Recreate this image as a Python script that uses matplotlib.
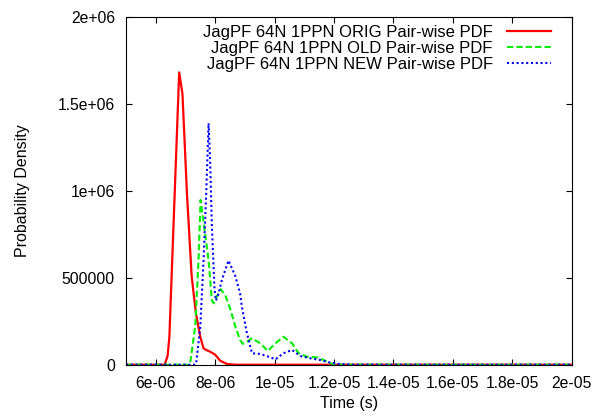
import matplotlib
matplotlib.use("Agg")
import matplotlib.pyplot as plt

plt.rcParams['font.family'] = ['Liberation Sans', 'DejaVu Sans']

# pair-wise PDF curves (time in s, density)
orig_t = [5.0e-6, 6.3e-6, 6.4e-6, 6.46e-6, 6.62e-6, 6.79e-6, 6.9e-6, 7.05e-6, 7.21e-6,
          7.35e-6, 7.5e-6, 7.61e-6, 7.7e-6, 7.83e-6, 8.0e-6, 8.17e-6, 8.4e-6, 8.7e-6, 2.0e-5]
orig_v = [0, 0, 50000, 160000, 900000, 1683000, 1560000, 990000, 510000,
          300000, 160000, 94000, 85000, 75000, 58000, 23000, 4000, 0, 0]

old_t = [5.0e-6, 7.1e-6, 7.16e-6, 7.33e-6, 7.44e-6, 7.51e-6, 7.58e-6, 7.66e-6, 7.78e-6,
         7.89e-6, 7.95e-6, 8.05e-6, 8.19e-6, 8.34e-6, 8.51e-6, 8.68e-6, 8.84e-6, 8.93e-6,
         9.07e-6, 9.24e-6, 9.52e-6, 9.77e-6, 1.003e-5, 1.03e-5, 1.059e-5, 1.081e-5,
         1.109e-5, 1.143e-5, 1.165e-5, 1.188e-5, 1.21e-5, 2.0e-5]
old_v = [0, 0, 10000, 220000, 600000, 948000, 860000, 756000, 600000,
         370000, 353000, 390000, 434000, 400000, 320000, 220000, 142000, 120000,
         132000, 152000, 123000, 79000, 123000, 161000, 123000, 66000,
         46000, 42000, 27000, 8000, 0, 0]

new_t = [5.0e-6, 7.3e-6, 7.36e-6, 7.5e-6, 7.61e-6, 7.7e-6, 7.78e-6, 7.83e-6, 7.89e-6,
         7.98e-6, 8.03e-6, 8.1e-6, 8.23e-6, 8.45e-6, 8.68e-6, 8.84e-6, 8.9e-6, 9.07e-6,
         9.24e-6, 9.52e-6, 9.8e-6, 1.003e-5, 1.03e-5, 1.059e-5, 1.087e-5, 1.12e-5,
         1.154e-5, 1.188e-5, 1.22e-5, 1.26e-5, 2.0e-5]
new_v = [0, 0, 5000, 220000, 600000, 990000, 1390000, 1180000, 800000,
         430000, 370000, 400000, 490000, 600000, 510000, 410000, 334000, 181000,
         66000, 62000, 46000, 31000, 66000, 85000, 50000, 37000,
         27000, 12000, 4000, 0, 0]

labels = ["JagPF 64N 1PPN ORIG Pair-wise PDF",
          "JagPF 64N 1PPN OLD Pair-wise PDF",
          "JagPF 64N 1PPN NEW Pair-wise PDF"]

x_ticks = [6e-6, 8e-6, 1e-5, 1.2e-5, 1.4e-5, 1.6e-5, 1.8e-5, 2e-5]
y_ticks = [0, 500000, 1000000, 1500000, 2000000]

fig = plt.figure(figsize=(5.98, 4.17), dpi=100)
ax = fig.add_axes([0.2107, 0.1254, 0.7453, 0.8331])

ax.plot(orig_t, orig_v, color='#ff0000', lw=1.6, label=labels[0])
ax.plot(old_t, old_v, color='#00ee00', lw=1.5, ls=(0, (3, 1.5)), label=labels[1])
ax.plot(new_t, new_v, color='#0000ff', lw=1.5, ls=(0, (1, 1.3)), label=labels[2])

ax.set_xlim(5e-6, 2e-5)
ax.set_ylim(0, 2000000)
ax.set_xticks(x_ticks)
ax.set_xticklabels(['%g' % v for v in x_ticks])
ax.set_yticks(y_ticks)
ax.set_yticklabels(['%g' % v for v in y_ticks])
ax.tick_params(direction='in', length=4, width=0.8, top=True, right=True,
               labelsize=11.3, colors='black')
ax.tick_params(axis='x', pad=8)
ax.tick_params(axis='y', pad=8)

ax.set_xlabel("Time (s)", fontsize=11.5, labelpad=4)
ax.set_ylabel("Probability Density", fontsize=11.5, labelpad=20)

leg = ax.legend(loc='upper right', bbox_to_anchor=(0.9536, 0.978),
                frameon=False, markerfirst=False, fontsize=12,
                handlelength=2.65, handletextpad=0.85, labelspacing=0.07,
                borderaxespad=0, borderpad=0)

fig.savefig("out.png", dpi=100)
